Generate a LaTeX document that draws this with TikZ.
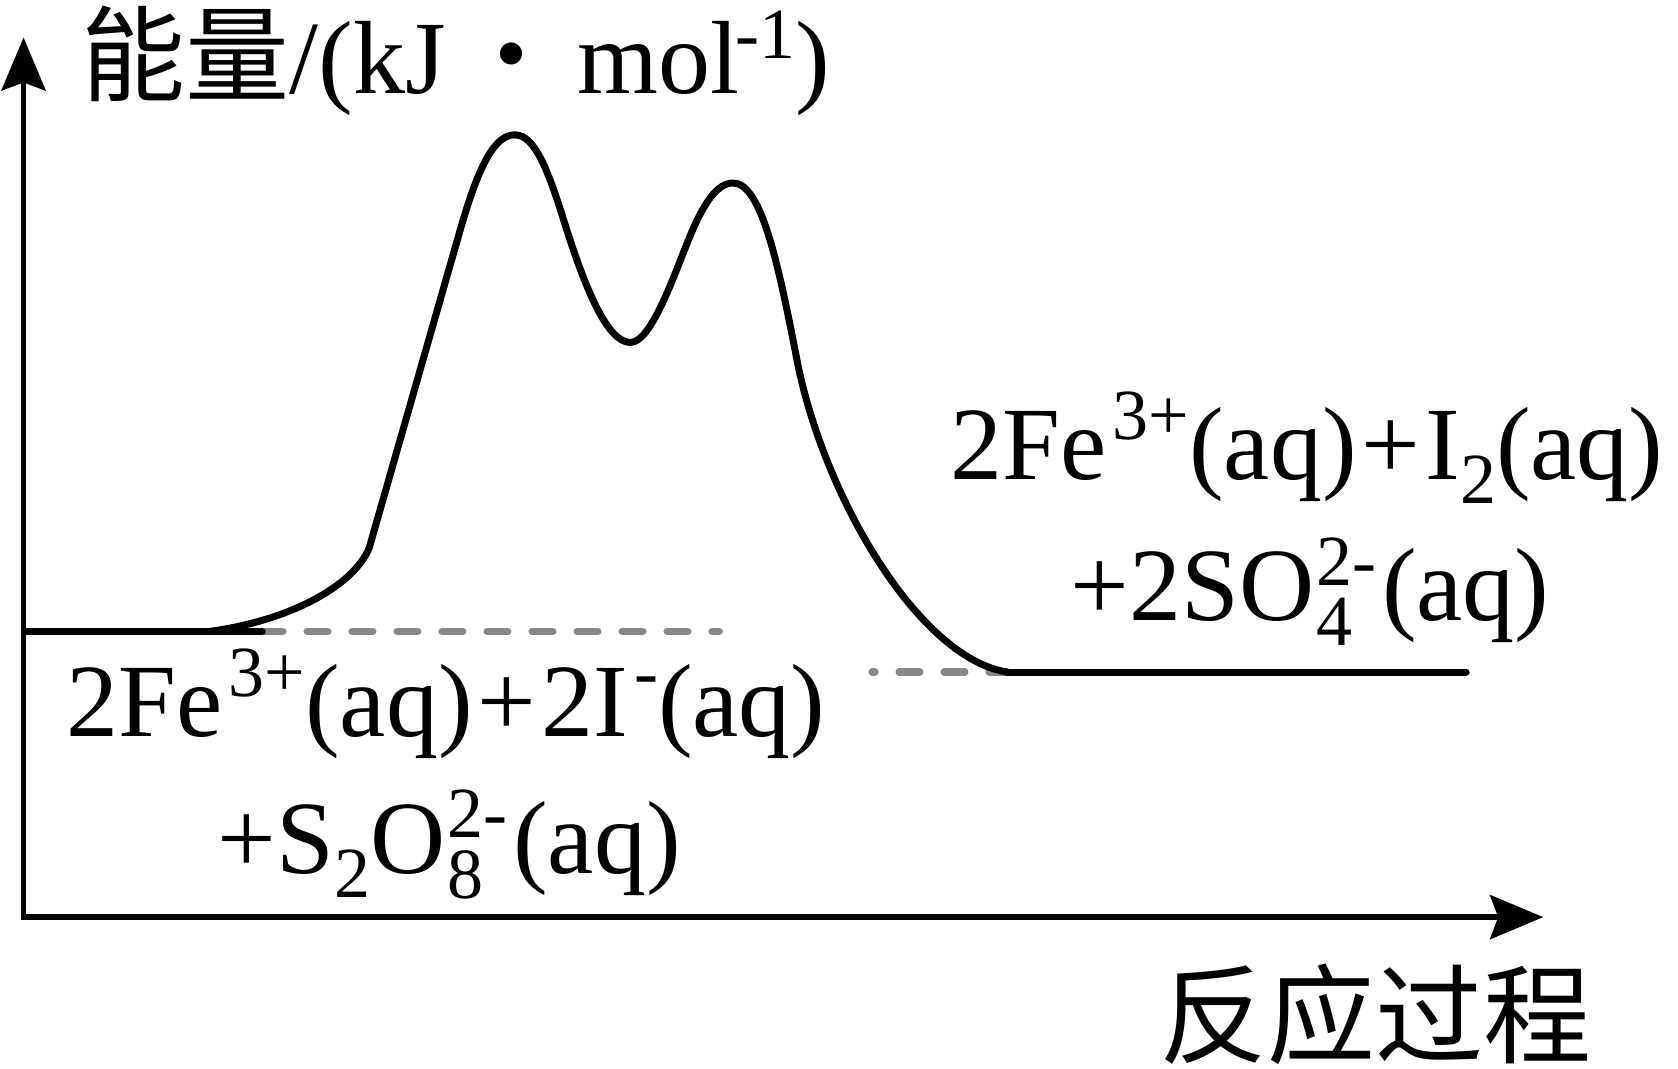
\documentclass[tikz,border=0pt]{standalone}
\usepackage{fontspec}
\setmainfont{Liberation Serif}
\newfontfamily\cjk{Noto Sans CJK SC}
\usetikzlibrary{arrows.meta}
\definecolor{dashgray}{RGB}{136,136,136}
\newcommand\bigsz{\fontsize{52}{60}\selectfont}
\newcommand\cjksz{\fontsize{52}{60}\selectfont}
\newcommand\smsz{\fontsize{36}{40}\selectfont}
\newcommand\Sup[1]{\kern3pt\raisebox{0.84ex}{\smsz #1}}
\newcommand\Sub[1]{\raisebox{-0.5ex}{\smsz #1}}
\newcommand\SubSup[2]{\kern1pt\rlap{\raisebox{-0.52ex}{\smsz #1}}\raisebox{0.74ex}{\smsz #2}\kern3pt}
\newcommand\Plus{\kern2.5pt+\kern2.5pt}
\tikzset{
  tipstyle/.tip={Stealth[length=26.5pt,width=22pt,inset=4pt]}}
\begin{document}
\begin{tikzpicture}[x=0.5351pt,y=-0.5351pt,
  axisline/.style={line width=2.8pt,line join=miter,tipstyle-tipstyle},
  curveline/.style={line width=3.5pt,line cap=round,line join=round},
  levelline/.style={line width=3.5pt,line cap=round},
  guide/.style={dashgray,line width=3.7pt,line cap=round,dash pattern=on 10.3pt off 12.2pt},
  lbl/.style={inner sep=0pt,font=\bigsz}]
\useasboundingbox (0,0) rectangle (1568,998);
\coordinate (O) at (22,857);
\coordinate (Ytip) at (22,35);
\coordinate (Xtip) at (1442,857);
\draw[axisline] (Ytip) -- (O) -- (Xtip);
% levels
\coordinate (L0) at (25,590);
\coordinate (C0) at (196,590);
\coordinate (L1) at (245,590);
\coordinate (R0) at (941,628);
\coordinate (R1) at (1370,628);
\coordinate (G1) at (672,590);
\coordinate (G2) at (815,628);
\draw[guide] (L1) -- (G1);
\draw[guide,dash phase=9pt] (G2) -- (R0);
\draw[levelline] (L0) -- (L1);
\draw[levelline] (R0) -- (R1);
\draw[curveline] (C0) .. controls (270,580) and (330,548) .. (345,512)
  -- (430,215)
  .. controls (448,152) and (463,126) .. (481,126)
  .. controls (500,126) and (512,160) .. (525,200)
  .. controls (547,272) and (568,320) .. (589,320)
  .. controls (608,320) and (628,262) .. (643,225)
  .. controls (657,190) and (670,171) .. (685,171)
  .. controls (712,171) and (728,250) .. (746,343)
  .. controls (773,470) and (860,615) .. (R0);
% labels
\node[inner sep=0pt,anchor=base west] (title) at (76,87)
  {\cjksz\cjk 能量{\bigsz\rmfamily/(kJ}\kern7pt・\kern7pt{\bigsz\rmfamily mol\kern-2pt\raisebox{0.72ex}{\smsz -1})}};
\node[lbl,anchor=base west] (react1) at (62,688) {2Fe\Sup{3+}(aq)\Plus2I\Sup{-}(aq)};
\node[lbl,anchor=base west] (react2) at (203,816) {+S\Sub{2}O\SubSup{8}{2-}(aq)};
\node[lbl,anchor=base west] (prod1) at (888,448) {2Fe\Sup{3+}(aq)\Plus I\Sub{2}(aq)};
\node[lbl,anchor=base west] (prod2) at (1000,580) {+2SO\SubSup{4}{2-}(aq)};
\node[inner sep=0pt,anchor=base west,font=\fontsize{54}{60}\selectfont\cjk] (xlab) at (1083,986) {反应过程};
\end{tikzpicture}
\end{document}
